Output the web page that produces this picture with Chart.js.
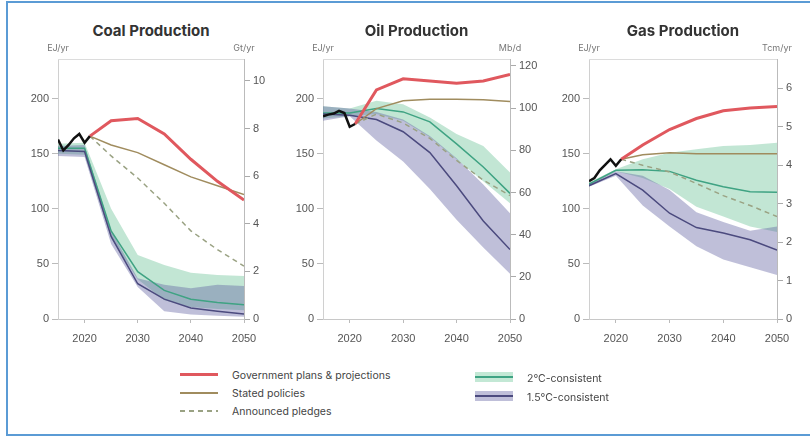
<!DOCTYPE html>
<html>
<head>
<meta charset="utf-8">
<script src="https://cdn.jsdelivr.net/npm/chart.js@4.4.1/dist/chart.umd.min.js"></script>
<style>
  body { margin: 0; width: 810px; height: 436px; overflow: hidden; position: relative; background: #fff; font-family: Inter, "Noto Sans", sans-serif; }
  .frame { position: absolute; left: 6px; top: 1px; width: 830px; height: 431px; border: 2px solid #5b9bd5; border-right: none; }
  canvas { position: absolute; }
  .ttl { position: absolute; top: 21px; font-size: 15px; font-weight: 700; color: #333; transform: translateX(-50%); white-space: nowrap; }
  .unit { position: absolute; top: 42px; font-size: 9px; color: #777; transform: translateX(-50%); white-space: nowrap; }
  .lg { position: absolute; font-size: 10.5px; color: #444; white-space: nowrap; transform: translateY(-50%); }
  .sw { position: absolute; }
</style>
</head>
<body>
<div class="frame"></div>

<canvas id="coal"></canvas>
<canvas id="oil"></canvas>
<canvas id="gas"></canvas>

<div id="labels"></div>

<!-- legend -->
<div class="sw" style="left:180px;top:373px;width:38px;height:3px;background:#e0585e"></div>
<div class="lg" style="left:232px;top:375px">Government plans &amp; projections</div>
<div class="sw" style="left:180px;top:392px;width:38px;height:2px;background:#a08c5e"></div>
<div class="lg" style="left:232px;top:393px">Stated policies</div>
<div class="sw" style="left:180px;top:410px;width:38px;height:2px;background:repeating-linear-gradient(90deg,#9aa283 0 5px,transparent 5px 9px)"></div>
<div class="lg" style="left:232px;top:411px">Announced pledges</div>

<div class="sw" style="left:475px;top:372px;width:38px;height:10px;background:#c3e8d5"></div>
<div class="sw" style="left:475px;top:376px;width:38px;height:2px;background:#3fa383"></div>
<div class="lg" style="left:527px;top:378px">2°C-consistent</div>
<div class="sw" style="left:475px;top:391px;width:38px;height:10px;background:#bfbfd9"></div>
<div class="sw" style="left:475px;top:395px;width:38px;height:2px;background:#4b4a7e"></div>
<div class="lg" style="left:527px;top:397px">1.5°C-consistent</div>

<script>
// years
const histYears = [2015, 2016, 2017, 2018, 2019, 2020, 2021];
const projYears = [2021, 2025, 2030, 2035, 2040, 2045, 2050];
const bandYears = [2015, 2020, 2025, 2030, 2035, 2040, 2045, 2050];

// coal (EJ/yr)
const coalHist = [163, 153, 158, 164, 168, 160, 166];
const coalGov = [166, 180, 182, 168, 145, 125, 108];
const coalStated = [166, 158, 151, 140, 129, 121, 113];
const coalPledges = [166, 148, 128, 105, 80, 63, 48];
const coal2cHigh = [159, 160, 100, 58, 49, 42, 40, 39];
const coal2cLow = [150, 149, 73, 36, 17, 11, 9, 8];
const coal2cMid = [155, 155, 80, 43, 26, 18, 15, 13];
const coal15High = [157, 158, 80, 37, 31, 28, 31, 30];
const coal15Low = [148, 147, 68, 29, 7, 4, 3, 2];
const coal15Mid = [153, 152, 75, 32, 18, 10, 7, 4.5];

// oil (EJ/yr)
const oilHist = [184, 185.5, 186.5, 189, 187, 174.5, 177];
const oilGov = [177, 208, 218, 216, 214, 216, 222];
const oilStated = [177, 191, 198, 199.5, 199.5, 199, 197.5];
const oilPledges = [177, 186, 178, 164, 144, 126, 112];
const oil2cHigh = [193, 191, 198, 195, 183, 168, 157, 133];
const oil2cLow = [182, 184, 186, 180, 165, 145, 125, 105];
const oil2cMid = [187, 187, 191, 188, 179, 159, 138, 114];
const oil15High = [193, 191, 188, 181, 166, 146, 122, 96];
const oil15Low = [180, 184, 162, 143, 118, 90, 65, 41];
const oil15Mid = [186, 185, 181, 170, 151, 121, 89, 63];

// gas (EJ/yr)
const gasHist = [125, 128, 135, 140, 145, 139, 145];
const gasGov = [145, 158, 172, 182, 189, 191.5, 193];
const gasStated = [145, 149, 151, 150, 150, 150, 150];
const gasPledges = [145, 139.5, 133.5, 123, 112, 103, 93];
const gas2cHigh = [124, 136, 145, 151, 154, 157, 158, 160];
const gas2cLow = [121, 134, 128, 118, 102, 93, 84, 79];
const gas2cMid = [122.5, 135, 135.5, 134, 126, 120, 115.5, 115];
const gas15High = [123, 134, 130, 117, 97, 88, 80, 84];
const gas15Low = [120, 130, 103, 84, 66, 54, 47, 40];
const gas15Mid = [121, 132, 117, 96, 83, 78, 72, 62.5];

// tick labels
const yearTicks = [2020, 2030, 2040, 2050];
const ejTicks = [0, 50, 100, 150, 200];
const coalRightTicks = [0, 2, 4, 6, 8, 10];
const oilRightTicks = [0, 20, 40, 60, 80, 100, 120];
const gasRightTicks = [0, 1, 2, 3, 4, 5, 6];

const pts = (xs, ys) => ys.map((v, i) => ({ x: xs[i], y: v }));

const frameTop = {
    id: 'frameTop',
    beforeDatasetsDraw(chart) {
        const a = chart.chartArea, c = chart.ctx;
        c.save();
        c.strokeStyle = '#dcdcdc';
        c.lineWidth = 1;
        c.beginPath();
        c.moveTo(a.left, a.top + 0.5);
        c.lineTo(a.right, a.top + 0.5);
        c.stroke();
        c.restore();
    }
};

function makePanel(p) {
    const W = p.right - p.left + 90, H = 310;
    const cv = document.getElementById(p.id);
    cv.style.left = (p.left - 45) + 'px';
    cv.style.top = '40px';
    cv.width = W; cv.height = H;
    cv.style.width = W + 'px'; cv.style.height = H + 'px';

    const lab = document.getElementById('labels');
    lab.insertAdjacentHTML('beforeend',
        '<div class="ttl" style="left:' + ((p.left + p.right) / 2) + 'px">' + p.title + '</div>' +
        '<div class="unit" style="left:' + p.left + 'px">EJ/yr</div>' +
        '<div class="unit" style="left:' + p.right + 'px">' + p.unit + '</div>');

    const line = (data, color, width, extra) => Object.assign({
        data: data, borderColor: color, borderWidth: width, pointRadius: 0, fill: false
    }, extra || {});

    new Chart(cv, {
        type: 'line',
        data: {
            datasets: [
                line(pts(histYears, p.hist), '#111', 2.5),
                line(pts(projYears, p.gov), '#e0585e', 3),
                line(pts(projYears, p.stated), '#a08c5e', 1.5),
                line(pts(projYears, p.pledges), '#9aa283', 1.5, { borderDash: [5, 4] }),
                line(pts(bandYears, p.mid15), '#4b4a7e', 1.5),
                line(pts(bandYears, p.mid2c), '#3fa383', 1.5),
                line(pts(bandYears, p.high15), 'rgba(0,0,0,0)', 0),
                line(pts(bandYears, p.low15), 'rgba(0,0,0,0)', 0, { fill: '-1', backgroundColor: 'rgba(95,95,160,0.40)' }),
                line(pts(bandYears, p.high2c), 'rgba(0,0,0,0)', 0),
                line(pts(bandYears, p.low2c), 'rgba(0,0,0,0)', 0, { fill: '-1', backgroundColor: 'rgba(120,200,160,0.45)' })
            ]
        },
        options: {
            responsive: false,
            animation: false,
            layout: { padding: { top: 19, left: 0, right: 0, bottom: 0 } },
            plugins: { legend: { display: false }, tooltip: { enabled: false } },
            scales: {
                x: {
                    type: 'linear', min: 2015, max: 2050,
                    afterBuildTicks: s => { s.ticks = yearTicks.map(v => ({ value: v })); },
                    afterFit: s => { s.height = 31; },
                    ticks: { callback: v => String(v), color: '#555', font: { size: 11 }, padding: 9, maxRotation: 0 },
                    grid: { drawOnChartArea: false, tickLength: 4, color: '#bbb' },
                    border: { color: '#c8c8c8' }
                },
                y: {
                    position: 'left', min: 0, max: 236,
                    afterBuildTicks: s => { s.ticks = ejTicks.map(v => ({ value: v })); },
                    afterFit: s => { s.width = 45; },
                    ticks: { color: '#555', font: { size: 11 }, padding: 3 },
                    grid: { drawOnChartArea: false, tickLength: 6, color: '#bbb' },
                    border: { color: '#d0d0d0' }
                },
                y2: {
                    position: 'right', min: 0, max: p.rightMax,
                    afterBuildTicks: s => { s.ticks = p.rightTicks.map(v => ({ value: v })); },
                    afterFit: s => { s.width = 45; },
                    ticks: { color: '#555', font: { size: 11 }, padding: 3 },
                    grid: { drawOnChartArea: false, tickLength: 6, color: '#aaa' },
                    border: { color: '#bbb' }
                }
            }
        },
        plugins: [frameTop]
    });
}

makePanel({ id: 'coal', title: 'Coal Production', unit: 'Gt/yr', left: 58, right: 244,
    rightMax: 10.92, rightTicks: coalRightTicks,
    hist: coalHist, gov: coalGov, stated: coalStated, pledges: coalPledges,
    high2c: coal2cHigh, low2c: coal2cLow, mid2c: coal2cMid,
    high15: coal15High, low15: coal15Low, mid15: coal15Mid });

makePanel({ id: 'oil', title: 'Oil Production', unit: 'Mb/d', left: 323, right: 510,
    rightMax: 123.3, rightTicks: oilRightTicks,
    hist: oilHist, gov: oilGov, stated: oilStated, pledges: oilPledges,
    high2c: oil2cHigh, low2c: oil2cLow, mid2c: oil2cMid,
    high15: oil15High, low15: oil15Low, mid15: oil15Mid });

makePanel({ id: 'gas', title: 'Gas Production', unit: 'Tcm/yr', left: 589, right: 777,
    rightMax: 6.76, rightTicks: gasRightTicks,
    hist: gasHist, gov: gasGov, stated: gasStated, pledges: gasPledges,
    high2c: gas2cHigh, low2c: gas2cLow, mid2c: gas2cMid,
    high15: gas15High, low15: gas15Low, mid15: gas15Mid });
</script>
</body>
</html>
